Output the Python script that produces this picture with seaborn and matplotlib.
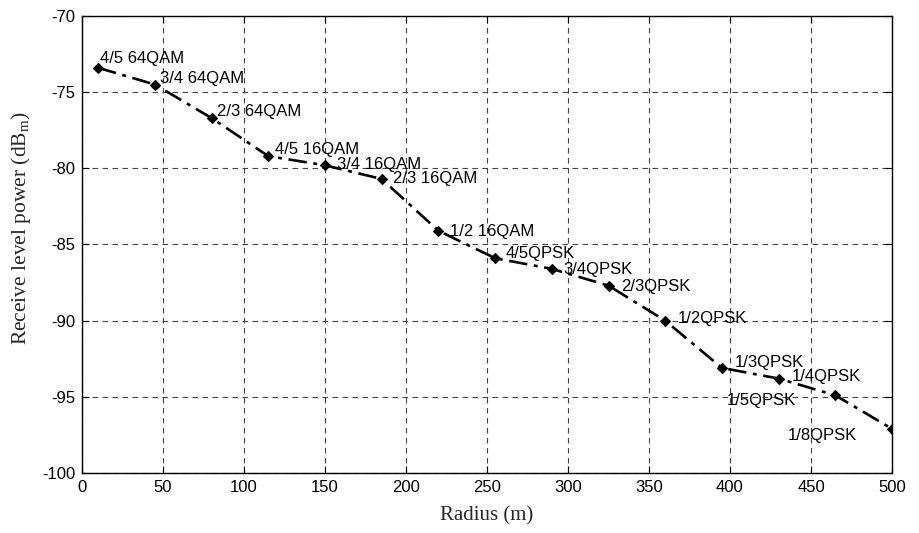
import matplotlib
matplotlib.use("Agg")
import matplotlib.pyplot as plt
import seaborn as sns
import pandas as pd

radius = [10, 45, 80, 115, 150, 185, 220, 255, 290, 325, 360, 395, 430, 465, 500]
power = [-73.4, -74.5, -76.7, -79.2, -79.8, -80.7, -84.1, -85.9, -86.6, -87.7,
         -90.0, -93.1, -93.8, -94.9, -97.1]
labels = ["4/5 64QAM", "3/4 64QAM", "2/3 64QAM", "4/5 16QAM", "3/4 16QAM",
          "2/3 16QAM", "1/2 16QAM", "4/5QPSK", "3/4QPSK", "2/3QPSK",
          "1/2QPSK", "1/3QPSK", "1/4QPSK", "1/5QPSK", "1/8QPSK"]
x_ticks = [0, 50, 100, 150, 200, 250, 300, 350, 400, 450, 500]
y_ticks = [-100, -95, -90, -85, -80, -75, -70]

# label placement (pixel offsets from point, horizontal alignment)
label_style = [(2, 4.4, "left"), (5, 1.7, "left"), (5, 2.3, "left"), (7, 2.4, "left"),
               (12, -4, "left"), (11, -4, "left"), (12, -5.7, "left"), (11, 0, "left"),
               (12, -5, "left"), (13, -5, "left"), (13, -2.3, "left"), (13, 1, "left"),
               (13, -2.4, "left"), (-39, -9.7, "right"), (-35, -11.3, "right")]

sns.set_style("white")
plt.rcParams["font.family"] = ["Liberation Sans", "DejaVu Sans"]

df = pd.DataFrame({"radius": radius, "power": power})

fig = plt.figure(figsize=(9.2, 5.33), dpi=100)
ax = fig.add_axes([82 / 920, 1 - 473 / 533, 810 / 920, 457 / 533])

sns.lineplot(data=df, x="radius", y="power", ax=ax, color="black",
             linestyle=(0, (7, 2.5, 1.5, 2.5)), linewidth=1.9,
             marker="D", markersize=5.5, markeredgecolor="black",
             markerfacecolor="black", markeredgewidth=0.8)

for xv, yv, lab, (dx, dy, ha) in zip(radius, power, labels, label_style):
    ax.annotate(lab, (xv, yv), xytext=(dx * 0.72, dy * 0.72),
                textcoords="offset points", ha=ha, va="baseline",
                fontsize=12, color="black", family=["Liberation Sans"])

ax.set_xlim(0, 500)
ax.set_ylim(-100, -70)
ax.set_xticks(x_ticks)
ax.set_yticks(y_ticks)
ax.set_xticklabels([str(v) for v in x_ticks], fontsize=12)
ax.set_yticklabels([str(v) for v in y_ticks], fontsize=12)
ax.tick_params(direction="in", length=5, width=0.8, top=True, right=True,
               bottom=True, left=True, pad=5, colors="black")
ax.grid(True, color="#444444", linestyle=(0, (5, 4)), linewidth=0.8)
for s in ax.spines.values():
    s.set_visible(True)
    s.set_color("black")
    s.set_linewidth(1.0)

ax.set_xlabel("Radius (m)", fontsize=15, family=["Liberation Serif"], labelpad=8)
ax.set_ylabel("Receive level power (dB$_\\mathregular{m}$)", fontsize=15.5,
              family=["Liberation Serif"])
ax.yaxis.set_label_coords(-0.061, 0.535)

fig.savefig("out.png", dpi=100)
